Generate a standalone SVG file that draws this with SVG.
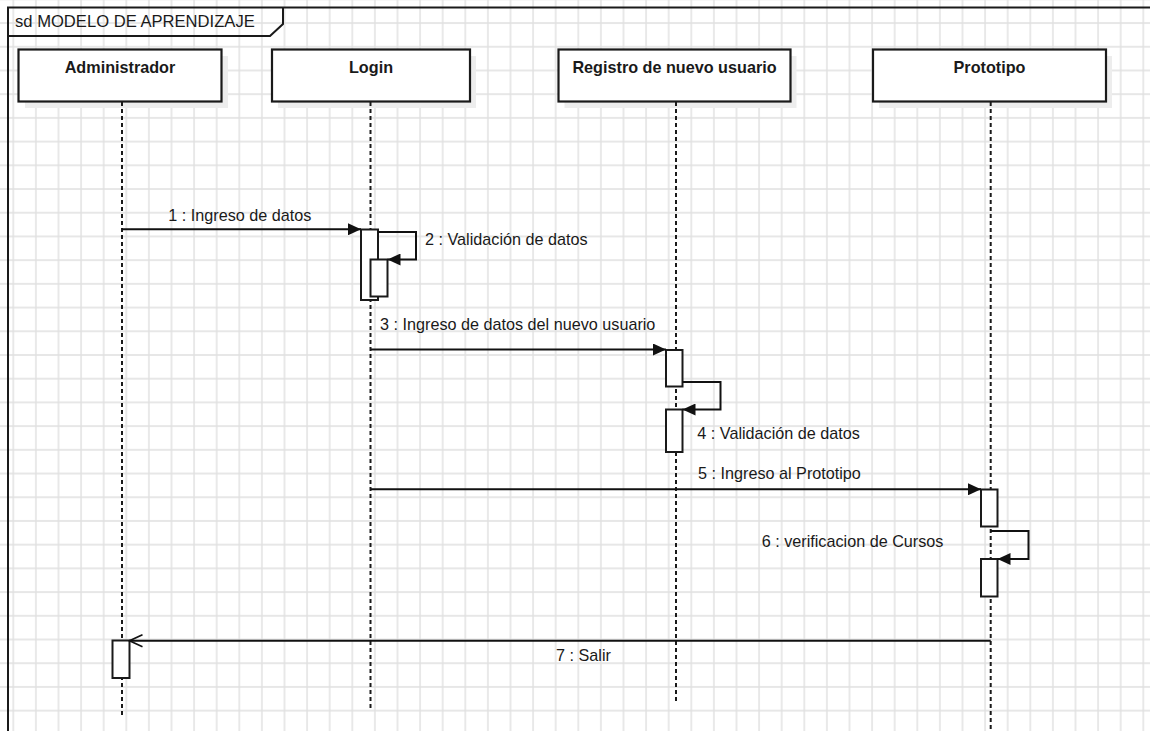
<svg xmlns="http://www.w3.org/2000/svg" width="1150" height="731" viewBox="0 0 1150 731">
  <defs>
    <pattern id="grid" x="12.3" y="-1.65" width="22.6" height="23.71" patternUnits="userSpaceOnUse">
      <path d="M0 1 H22.6 M1 0 V23.71" stroke="#e0e0e0" stroke-width="1.4" fill="none"/>
    </pattern>
    <marker id="filled" markerUnits="userSpaceOnUse" markerWidth="14" markerHeight="12" refX="13" refY="6" orient="auto">
      <path d="M0 0 L13 6 L0 12 Z" fill="#111"/>
    </marker>
    <marker id="open" markerUnits="userSpaceOnUse" markerWidth="16" markerHeight="14" refX="14" refY="7" orient="auto">
      <path d="M1 1 L14 7 L1 13" fill="none" stroke="#111" stroke-width="1.6"/>
    </marker>
  </defs>
  <style>
    .frame { fill: none; stroke: #1a1a1a; stroke-width: 2; }
    .shadow { fill: #ededed; }
    .head { fill: #fff; stroke: #1a1a1a; stroke-width: 2.2; }
    .headtext { font-family: "Liberation Sans", Arial, sans-serif; font-size: 16.2px; font-weight: bold; fill: #1a1a1a; text-anchor: middle; }
    .life { stroke: #1a1a1a; stroke-width: 2; stroke-dasharray: 4 3; fill: none; }
    .act { fill: #fff; stroke: #1a1a1a; stroke-width: 2; }
    .msg { fill: none; stroke: #111; stroke-width: 2; }
    .label { font-family: "Liberation Sans", Arial, sans-serif; font-size: 16.2px; fill: #1a1a1a; }
  </style>

  <!-- background grid -->
  <rect width="1150" height="731" fill="#fff"/>
  <rect width="1150" height="731" fill="url(#grid)"/>

  <!-- sequence frame -->
  <g id="frame">
    <path class="frame" d="M8 731 V7.5 H1150"/>
    <path class="frame" d="M8 36 H270 L283 24 V7.5"/>
    <text x="15" y="26.5" font-family="Liberation Sans, Arial, sans-serif" font-size="16.6" fill="#1a1a1a">sd MODELO DE APRENDIZAJE</text>
  </g>

  <!-- lifelines -->
  <g id="administrador">
    <rect class="shadow" x="25" y="56" width="203" height="52"/>
    <rect class="head" x="18.5" y="49.5" width="203" height="52"/>
    <text class="headtext" x="120" y="72.5">Administrador</text>
    <line class="life" x1="122" y1="102" x2="122" y2="717"/>
    <rect class="act" x="112.5" y="640.5" width="17" height="37.5"/>
  </g>

  <g id="login">
    <rect class="shadow" x="278" y="56" width="198" height="52"/>
    <rect class="head" x="272" y="49.5" width="198" height="52"/>
    <text class="headtext" x="371" y="72.5">Login</text>
    <line class="life" x1="370.5" y1="102" x2="370.5" y2="711"/>
    <rect class="act" x="361" y="229.5" width="17" height="70.5"/>
    <rect class="act" x="370.5" y="259.5" width="17" height="37"/>
  </g>

  <g id="registro">
    <rect class="shadow" x="564.5" y="56" width="232" height="52"/>
    <rect class="head" x="558.5" y="49.5" width="232" height="52"/>
    <text class="headtext" x="674.5" y="72.5">Registro de nuevo usuario</text>
    <line class="life" x1="676" y1="102" x2="676" y2="702"/>
    <rect class="act" x="666" y="350" width="16.5" height="36.5"/>
    <rect class="act" x="666" y="409.5" width="16.5" height="42.5"/>
  </g>

  <g id="prototipo">
    <rect class="shadow" x="879" y="56" width="233" height="52"/>
    <rect class="head" x="873" y="49.5" width="233" height="52"/>
    <text class="headtext" x="989.5" y="72.5">Prototipo</text>
    <line class="life" x1="990.7" y1="102" x2="990.7" y2="731"/>
    <rect class="act" x="981" y="489.5" width="16.5" height="37"/>
    <rect class="act" x="981" y="559" width="16.5" height="37.5"/>
  </g>

  <!-- messages -->
  <g id="connectors">
    <line class="msg" x1="122" y1="229.3" x2="361" y2="229.3" marker-end="url(#filled)"/>
    <polyline class="msg" points="378,232 416,232 416,259.5 387.5,259.5" marker-end="url(#filled)"/>
    <line class="msg" x1="371" y1="349.5" x2="666" y2="349.5" marker-end="url(#filled)"/>
    <polyline class="msg" points="682.5,382 720.5,382 720.5,409.5 682.5,409.5" marker-end="url(#filled)"/>
    <line class="msg" x1="371" y1="489.3" x2="981" y2="489.3" marker-end="url(#filled)"/>
    <polyline class="msg" points="990.7,531 1028.5,531 1028.5,559 997.5,559" marker-end="url(#filled)"/>
    <line class="msg" x1="990.7" y1="640.7" x2="129.5" y2="640.7" marker-end="url(#open)"/>
  </g>

  <!-- message labels -->
  <g id="labels">
    <text class="label" x="168.3" y="220.5">1 : Ingreso de datos</text>
    <text class="label" x="425" y="244.5">2 : Validación de datos</text>
    <text class="label" x="380" y="330">3 : Ingreso de datos del nuevo usuario</text>
    <text class="label" x="697.3" y="438.5">4 : Validación de datos</text>
    <text class="label" x="698" y="479.3">5 : Ingreso al Prototipo</text>
    <text class="label" x="761.7" y="546.7">6 : verificacion de Cursos</text>
    <text class="label" x="556" y="661">7 : Salir</text>
  </g>
</svg>
